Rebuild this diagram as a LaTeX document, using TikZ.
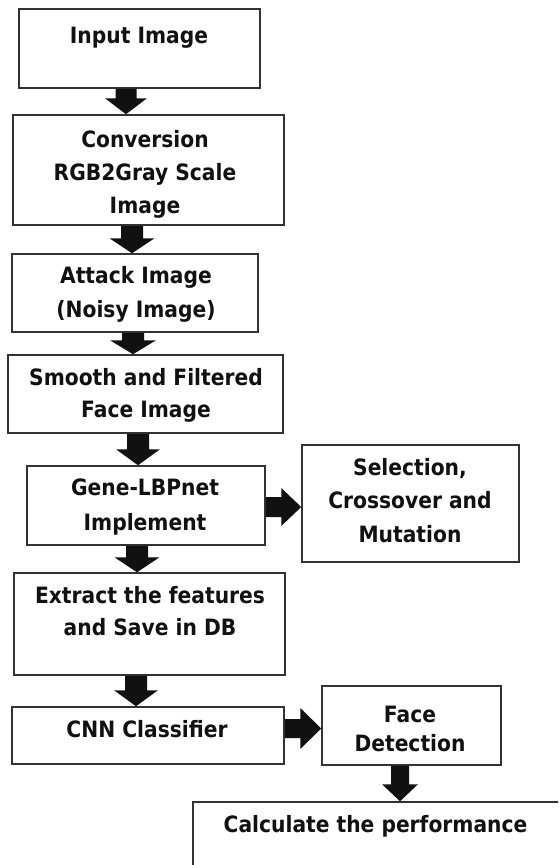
\documentclass[tikz,border=0pt]{standalone}
\usepackage{fontspec}
\newfontfamily\flowfont{DejaVu Sans}[FakeStretch=0.9]
\usetikzlibrary{calc}
\definecolor{ink}{HTML}{111111}
\definecolor{edge}{HTML}{333333}

\tikzset{
  box/.style={rectangle, draw=edge, line width=1.5pt, inner sep=0pt},
  lbl/.style={font=\flowfont\bfseries\fontsize{22.5}{27}\selectfont, text=ink, anchor=base, inner sep=0pt},
  arrowfill/.style={fill=ink},
}

% block arrow pointing down: source, target, x, shaft half-width, head half-width, head length
\newcommand\blkdown[6]{%
  \fill[arrowfill] let \p1=(#1.south), \p2=(#2.north) in
    (#3-#4,\y1) -- (#3+#4,\y1) -- (#3+#4,\y2+#6pt) -- (#3+#5,\y2+#6pt) -- (#3,\y2)
    -- (#3-#5,\y2+#6pt) -- (#3-#4,\y2+#6pt) -- cycle;}

% block arrow pointing right: source, target, y, shaft half-height, head half-height, head length
\newcommand\blkright[6]{%
  \fill[arrowfill] let \p1=(#1.east), \p2=(#2.west) in
    (\x1,#3-#4) -- (\x2-#6pt,#3-#4) -- (\x2-#6pt,#3-#5) -- (\x2,#3)
    -- (\x2-#6pt,#3+#5) -- (\x2-#6pt,#3+#4) -- (\x1,#3+#4) -- cycle;}

\begin{document}
\begin{tikzpicture}[x=1pt, y=-1pt]
  \useasboundingbox (0,0) rectangle (558,865);
  \fill[white] (0,0) rectangle (558,865);
  \clip (0,0) rectangle (558,865);

  % process boxes
  \node[box, minimum width=241pt, minimum height=79pt]  (b1)  at (139.5,48.5) {};
  \node[box, minimum width=271pt, minimum height=110pt] (b2)  at (148.5,170) {};
  \node[box, minimum width=246pt, minimum height=78pt]  (b3)  at (135,293) {};
  \node[box, minimum width=275pt, minimum height=78pt]  (b4)  at (145.5,394) {};
  \node[box, minimum width=238pt, minimum height=79pt]  (b5)  at (146,505.5) {};
  \node[box, minimum width=217pt, minimum height=117pt] (b6)  at (410.5,503.5) {};
  \node[box, minimum width=271pt, minimum height=102pt] (b7)  at (149.5,624) {};
  \node[box, minimum width=272pt, minimum height=57pt]  (b8)  at (148,735.5) {};
  \node[box, minimum width=179pt, minimum height=79pt]  (b9)  at (411.5,725.5) {};
  \node[box, minimum width=377pt, minimum height=80pt]  (b10) at (381.5,842) {};

  % box texts
  \node[lbl] (t1)  at (139,43)  {Input Image};
  \node[lbl] (t2a) at (145,147) {Conversion};
  \node[lbl] (t2b) at (145,180) {RGB2Gray Scale};
  \node[lbl] (t2c) at (145,213) {Image};
  \node[lbl] (t3a) at (136,283) {Attack Image};
  \node[lbl] (t3b) at (136,317) {(Noisy Image)};
  \node[lbl] (t4a) at (146,385) {Smooth and Filtered};
  \node[lbl] (t4b) at (146,417) {Face Image};
  \node[lbl] (t5a) at (145,495) {Gene-LBPnet};
  \node[lbl] (t5b) at (145,530) {Implement};
  \node[lbl] (t6a) at (410,475) {Selection,};
  \node[lbl] (t6b) at (410,508) {Crossover and};
  \node[lbl] (t6c) at (410,542) {Mutation};
  \node[lbl] (t7a) at (150,603) {Extract the features};
  \node[lbl] (t7b) at (150,635) {and Save in DB};
  \node[lbl] (t8)  at (147,737) {CNN Classifier};
  \node[lbl] (t9a) at (410,722) {Face};
  \node[lbl] (t9b) at (410,751) {Detection};
  \node[lbl] (t10) at (375.5,832) {Calculate the performance};

  % block arrows between the steps
  \blkdown{b1}{b2}{126}{10.5}{21}{16}
  \blkdown{b2}{b3}{132}{11}{22.5}{15}
  \blkdown{b3}{b4}{133}{11}{23}{14}
  \blkdown{b4}{b5}{138}{11}{22}{16}
  \blkdown{b5}{b7}{137}{11}{22.5}{15}
  \blkdown{b7}{b8}{136}{11}{22}{16}
  \blkdown{b9}{b10}{400}{9}{18}{17}
  \blkright{b5}{b6}{507}{10}{19}{20}
  \blkright{b8}{b9}{728.5}{9.5}{20.5}{21}
\end{tikzpicture}
\end{document}
